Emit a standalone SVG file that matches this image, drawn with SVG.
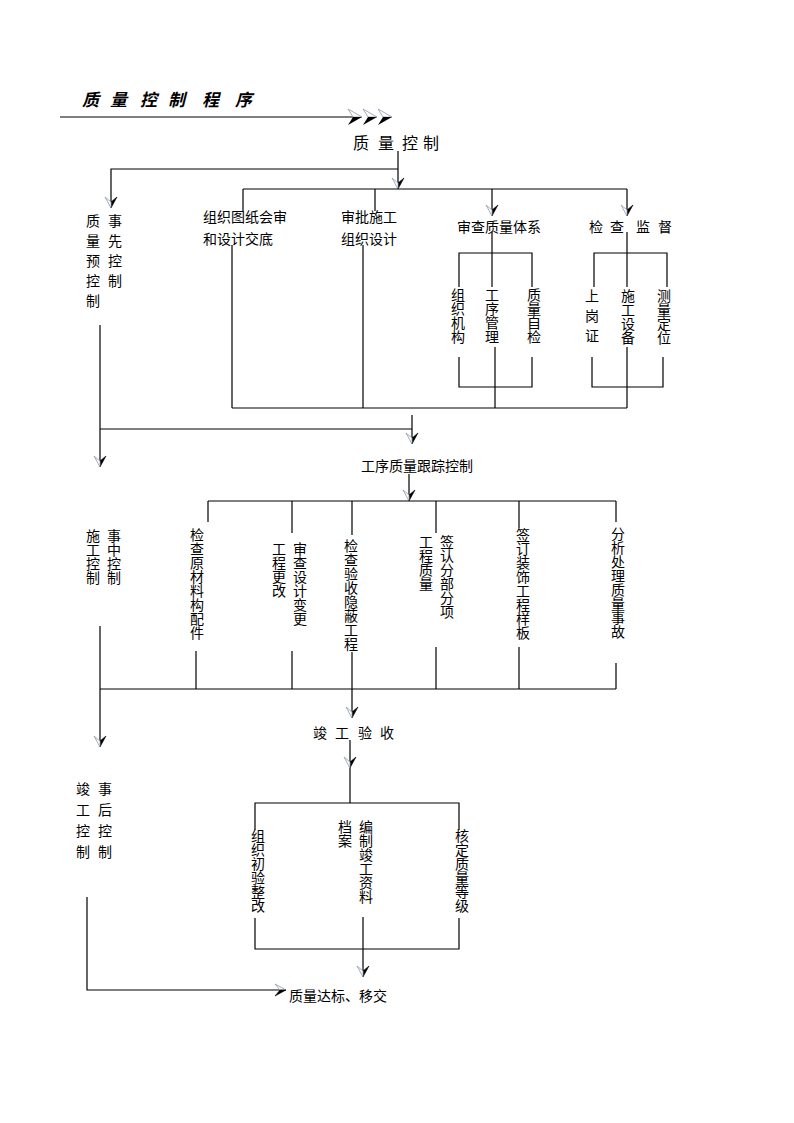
<svg xmlns="http://www.w3.org/2000/svg" width="794" height="1123" viewBox="0 0 794 1123">
<style>
text{font-family:"Noto Sans CJK SC","Noto Sans",sans-serif;font-size:14px;fill:#000}
.v{writing-mode:vertical-rl;text-orientation:upright}
.t{font-size:17px;font-weight:bold;font-style:italic}
.c line,.c path,.c polyline{stroke:#000;stroke-width:1.2;fill:none}
</style>
<defs>
<marker id="ad" markerUnits="userSpaceOnUse" markerWidth="20" markerHeight="20" viewBox="-14 -10 16 20" refX="0" refY="0" orient="auto" overflow="visible">
<path d="M0,0 L-11,-6 L-6,0 Z" fill="#000" stroke="#000" stroke-width="0.6"/>
<path d="M0,0 L-11,6 L-6,0 Z" fill="#fff" stroke="#8a98ad" stroke-width="0.8"/>
</marker>
<marker id="ar" markerUnits="userSpaceOnUse" markerWidth="20" markerHeight="20" viewBox="-14 -10 16 20" refX="0" refY="0" orient="auto" overflow="visible">
<path d="M0,0 L-11,-6 L-6,0 Z" fill="#fff" stroke="#8a98ad" stroke-width="0.8"/>
<path d="M0,0 L-11,6 L-6,0 Z" fill="#000" stroke="#000" stroke-width="0.6"/>
</marker>
<g id="chev">
<path d="M0,0 L-14,-8 L-9,0 Z" fill="#fff" stroke="#8a98ad" stroke-width="0.8"/>
<path d="M0,0 L-14,8 L-9,0 Z" fill="#000"/>
</g>
</defs>

<g id="title">
<text class="t" x="82" y="106">质</text>
<text class="t" x="110" y="106">量</text>
<text class="t" x="140" y="106">控</text>
<text class="t" x="168" y="106">制</text>
<text class="t" x="202" y="106">程</text>
<text class="t" x="235" y="106">序</text>
</g>

<g class="c" id="connectors">
<line x1="60" y1="117" x2="360" y2="117"/>
<use href="#chev" x="362" y="117"/>
<use href="#chev" x="377" y="117"/>
<use href="#chev" x="392" y="117"/>

<line x1="398" y1="151" x2="398" y2="189" marker-end="url(#ad)"/>
<polyline points="398,169 111,169 111,208" marker-end="url(#ad)"/>
<line x1="243" y1="189" x2="627" y2="189"/>
<line x1="243" y1="189" x2="243" y2="211"/>
<line x1="375" y1="189" x2="375" y2="211"/>
<line x1="492" y1="189" x2="492" y2="216" marker-end="url(#ad)"/>
<line x1="627" y1="189" x2="627" y2="216" marker-end="url(#ad)"/>

<line x1="492" y1="232" x2="492" y2="287"/>
<polyline points="459,287 459,253 532,253 532,287"/>
<polyline points="459,357 459,387 532,387 532,357"/>
<line x1="495" y1="347" x2="495" y2="408"/>

<line x1="627" y1="232" x2="627" y2="287"/>
<polyline points="594,287 594,253 667,253 667,287"/>
<polyline points="592,357 592,387 663,387 663,357"/>
<line x1="627" y1="347" x2="627" y2="408"/>

<line x1="232" y1="245" x2="232" y2="408"/>
<line x1="363" y1="245" x2="363" y2="408"/>
<line x1="232" y1="408" x2="627" y2="408"/>

<line x1="100" y1="325" x2="100" y2="467" marker-end="url(#ad)"/>
<line x1="100" y1="429" x2="412" y2="429"/>
<line x1="412" y1="415" x2="412" y2="444" marker-end="url(#ad)"/>

<line x1="409" y1="474" x2="409" y2="501" marker-end="url(#ad)"/>
<line x1="208" y1="501" x2="616" y2="501"/>
<line x1="208" y1="501" x2="208" y2="522"/>
<line x1="292" y1="501" x2="292" y2="533"/>
<line x1="352" y1="501" x2="352" y2="535"/>
<line x1="436" y1="501" x2="436" y2="533"/>
<line x1="519" y1="501" x2="519" y2="528"/>
<line x1="616" y1="501" x2="616" y2="522"/>

<line x1="196" y1="651" x2="196" y2="689"/>
<line x1="292" y1="651" x2="292" y2="689"/>
<line x1="352" y1="652" x2="352" y2="718" marker-end="url(#ad)"/>
<line x1="436" y1="647" x2="436" y2="689"/>
<line x1="519" y1="647" x2="519" y2="689"/>
<line x1="616" y1="663" x2="616" y2="689"/>
<line x1="100" y1="689" x2="616" y2="689"/>
<line x1="100" y1="626" x2="100" y2="747" marker-end="url(#ad)"/>

<line x1="350" y1="740" x2="350" y2="768" marker-end="url(#ad)"/>
<line x1="350" y1="768" x2="350" y2="803"/>
<polyline points="255,830 255,803 459,803 459,830"/>
<polyline points="255,918 255,949 459,949 459,918"/>
<line x1="363" y1="917" x2="363" y2="977" marker-end="url(#ad)"/>

<polyline points="87,897 87,990 286,990" marker-end="url(#ar)"/>
</g>

<g id="n-qc">
<text x="353" y="149" style="font-size:16px">质</text>
<text x="378" y="149" style="font-size:16px">量</text>
<text x="402" y="149" style="font-size:16px">控</text>
<text x="423" y="149" style="font-size:16px">制</text>
</g>

<g id="n-pre">
<text class="v" x="93" y="214" style="letter-spacing:6px">质量预控制</text>
<text class="v" x="115" y="214" style="letter-spacing:6px">事先控制</text>
</g>

<g id="n-drawings">
<text x="203" y="222">组织图纸会审</text>
<text x="203" y="244">和设计交底</text>
</g>
<g id="n-approve">
<text x="341" y="222">审批施工</text>
<text x="341" y="244">组织设计</text>
</g>

<g id="n-system">
<text x="457" y="232">审查质量体系</text>
</g>
<g id="n-sys-sub">
<text class="v" x="458" y="288">组织机构</text>
<text class="v" x="492" y="288">工序管理</text>
<text class="v" x="534" y="288">质量自检</text>
</g>

<g id="n-supervise">
<text x="589" y="232">检</text>
<text x="610" y="232">查</text>
<text x="636" y="232">监</text>
<text x="658" y="232">督</text>
</g>
<g id="n-sup-sub">
<text class="v" x="592" y="289" style="letter-spacing:6px">上岗证</text>
<text class="v" x="628" y="289">施工设备</text>
<text class="v" x="664" y="289">测量定位</text>
</g>

<g id="n-track">
<text x="361" y="471">工序质量跟踪控制</text>
</g>

<g id="n-mid">
<text class="v" x="93" y="529">施工控制</text>
<text class="v" x="114" y="529">事中控制</text>
</g>

<g id="n-mid-sub">
<text class="v" x="197" y="528">检查原材料构配件</text>
<text class="v" x="279" y="542">工程更改</text>
<text class="v" x="300" y="542">审查设计变更</text>
<text class="v" x="351" y="539">检查验收隐蔽工程</text>
<text class="v" x="426" y="535">工程质量</text>
<text class="v" x="447" y="535">签认分部分项</text>
<text class="v" x="523" y="528">签订装饰工程样板</text>
<text class="v" x="618" y="527">分析处理质量事故</text>
</g>

<g id="n-accept">
<text x="313" y="738">竣</text>
<text x="335" y="738">工</text>
<text x="358" y="738">验</text>
<text x="380" y="738">收</text>
</g>

<g id="n-post">
<text class="v" x="83" y="782" style="letter-spacing:7px">竣工控制</text>
<text class="v" x="105" y="782" style="letter-spacing:7px">事后控制</text>
</g>

<g id="n-acc-sub">
<text class="v" x="258" y="829">组织初验整改</text>
<text class="v" x="345" y="820">档案</text>
<text class="v" x="366" y="820">编制竣工资料</text>
<text class="v" x="462" y="829">核定质量等级</text>
</g>

<g id="n-final">
<text x="289" y="1001">质量达标、移交</text>
</g>
</svg>
